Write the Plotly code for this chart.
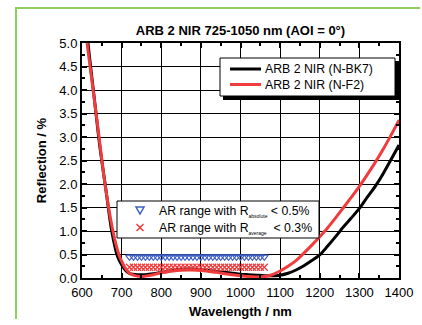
import plotly.graph_objects as go

# Data
wl_bk7 = [612, 615, 630, 645, 660, 675, 690, 700, 710, 720, 740, 760, 780, 800, 820, 840, 860, 880, 900,
          920, 940, 960, 980, 1000, 1020, 1040, 1060, 1080, 1100, 1120, 1140, 1160, 1180, 1200,
          1220, 1240, 1260, 1280, 1300, 1320, 1340, 1360, 1380, 1400]
r_bk7 = [5.3, 5.0, 3.9, 2.8, 1.9, 1.0, 0.45, 0.28, 0.16, 0.1, 0.07, 0.07, 0.09, 0.12, 0.15, 0.18, 0.19, 0.19, 0.18,
         0.16, 0.14, 0.12, 0.1, 0.08, 0.07, 0.06, 0.05, 0.05, 0.06, 0.1, 0.17, 0.26, 0.37, 0.49,
         0.68, 0.88, 1.09, 1.28, 1.48, 1.72, 1.95, 2.22, 2.52, 2.83]

wl_f2 = [610, 613, 628, 643, 658, 678, 693, 700, 710, 720, 730, 740, 750, 760, 780, 800, 820, 840, 860, 880, 900,
         920, 940, 960, 980, 1000, 1020, 1040, 1060, 1080, 1100, 1120, 1140, 1160, 1180, 1200,
         1220, 1240, 1260, 1280, 1300, 1320, 1340, 1360, 1380, 1400]
r_f2 = [5.3, 5.0, 4.0, 3.0, 2.0, 1.0, 0.5, 0.36, 0.2, 0.1, 0.06, 0.04, 0.03, 0.04, 0.07, 0.11, 0.14, 0.16, 0.17, 0.17, 0.16,
        0.14, 0.12, 0.09, 0.07, 0.05, 0.03, 0.02, 0.03, 0.07, 0.15, 0.25, 0.37, 0.53, 0.7, 0.88,
        1.07, 1.28, 1.5, 1.72, 1.95, 2.2, 2.46, 2.74, 3.04, 3.36]

wl_marks = [720, 730, 740, 750, 760, 770, 780, 790, 800, 810, 820, 830, 840, 850, 860, 870, 880, 890,
            900, 910, 920, 930, 940, 950, 960, 970, 980, 990, 1000, 1010, 1020, 1030, 1040, 1050, 1060]
abs_level = [0.45] * len(wl_marks)
avg_level = [0.23] * len(wl_marks)

x_ticks = [600, 700, 800, 900, 1000, 1100, 1200, 1300, 1400]
y_ticks = [0.0, 0.5, 1.0, 1.5, 2.0, 2.5, 3.0, 3.5, 4.0, 4.5, 5.0]

series_names = ["ARB 2 NIR (N-BK7)", "ARB 2 NIR (N-F2)"]
range_names = ["AR range with R<sub><span style='font-size:5px'>absolute</span></sub> &lt; 0.5%",
               "AR range with R<sub><span style='font-size:5px'>average</span></sub>  &lt; 0.3%"]

FONT = "Liberation Sans, Arial, sans-serif"
BLACK = "black"
RED = "#f03c3c"
BLUE = "#3d5fc4"
GREEN = "#8dcf5f"
LEG_SIZE = 12.3

# plot area in pixels
L, R, T, B = 82, 399, 43, 278
W, H = 422, 325


def px(x):
    return (x - L) / (R - L)


def py(y):
    return (B - y) / (B - T)


fig = go.Figure()
fig.add_trace(go.Scatter(x=wl_bk7, y=r_bk7, mode="lines", name=series_names[0],
                         line=dict(color=BLACK, width=3, shape="spline", smoothing=0.8)))
fig.add_trace(go.Scatter(x=wl_f2, y=r_f2, mode="lines", name=series_names[1],
                         line=dict(color=RED, width=3, shape="spline", smoothing=0.8)))
fig.add_trace(go.Scatter(x=wl_marks, y=abs_level, mode="markers", name="abs",
                         marker=dict(symbol="triangle-down-open", color=BLUE, size=7,
                                     line=dict(width=1.2))))
fig.add_trace(go.Scatter(x=wl_marks, y=avg_level, mode="markers", name="avg",
                         marker=dict(symbol="x-thin-open", color=RED, size=7,
                                     line=dict(width=1.3, color=RED))))

axis_common = dict(showline=True, linecolor="black", linewidth=2, mirror="ticks",
                   ticks="inside", ticklen=5, tickwidth=1.5, tickcolor="black",
                   showgrid=True, gridcolor="black", gridwidth=1, zeroline=False,
                   automargin=False,
                   tickfont=dict(family=FONT, size=13, color="black"))

fig.update_xaxes(range=[600, 1400], tickvals=x_ticks, ticktext=[str(v) for v in x_ticks],
                 minor=dict(ticks="inside", ticklen=3, tickcolor="black", dtick=50, showgrid=False),
                 ticklabelstandoff=1,
                 title=dict(text="<b>Wavelength / nm</b>", font=dict(family=FONT, size=13, color="black"),
                            standoff=8),
                 **axis_common)
fig.update_yaxes(range=[0, 5], tickvals=y_ticks, ticktext=[f"{v:.1f}" for v in y_ticks],
                 minor=dict(ticks="inside", ticklen=3, tickcolor="black", dtick=0.25, showgrid=False),
                 title=dict(text="<b>Reflection / %</b>", font=dict(family=FONT, size=13, color="black"),
                            standoff=10),
                 **axis_common)


def pshape(kind, x0, y0, x1, y1, **kw):
    return dict(type=kind, xref="paper", yref="paper", x0=px(x0), x1=px(x1), y0=py(y0), y1=py(y1),
                layer="above", **kw)


shapes = []
# legend 1: shadow, box, line samples
shapes.append(pshape("rect", 223, 100, 399, 61, fillcolor="black", line=dict(width=0)))
shapes.append(pshape("rect", 220, 96, 395, 58, fillcolor="white", line=dict(width=1, color="black")))
shapes.append(pshape("line", 230, 69, 261, 69, line=dict(color=BLACK, width=3)))
shapes.append(pshape("line", 230, 84.5, 261, 84.5, line=dict(color=RED, width=3)))
# legend 2 box and symbols
shapes.append(pshape("rect", 117, 238, 319, 201, fillcolor="white", line=dict(width=1, color="black")))
tri = "M {},{} L {},{} L {},{} Z".format(px(136), py(207), px(144), py(207), px(140), py(214))
shapes.append(dict(type="path", xref="paper", yref="paper", path=tri, layer="above",
                   line=dict(color=BLUE, width=1.5)))
shapes.append(pshape("line", 136.5, 224, 143.5, 231, line=dict(color=RED, width=1.5)))
shapes.append(pshape("line", 136.5, 231, 143.5, 224, line=dict(color=RED, width=1.5)))

annotations = []
for name, yy in zip(series_names, [69, 84.5]):
    annotations.append(dict(text=name, xref="paper", yref="paper", x=px(263), y=py(yy),
                            xanchor="left", yanchor="middle", showarrow=False,
                            font=dict(family=FONT, size=LEG_SIZE, color="black")))
for name, yy in zip(range_names, [210, 227]):
    annotations.append(dict(text=name, xref="paper", yref="paper", x=px(157), y=py(yy + 1.5),
                            xanchor="left", yanchor="middle", showarrow=False,
                            font=dict(family=FONT, size=LEG_SIZE, color="black")))
# green frame: top edge and left edge as thin filled boxes
annotations.append(dict(text=" ", xref="paper", yref="paper", x=px(15), y=py(7),
                        xanchor="left", yanchor="top", showarrow=False,
                        width=405, height=2, borderpad=0, borderwidth=0,
                        bgcolor=GREEN, font=dict(size=1)))
annotations.append(dict(text=" ", xref="paper", yref="paper", x=px(17), y=py(7),
                        xanchor="right", yanchor="top", showarrow=False,
                        width=2, height=312, borderpad=0, borderwidth=0,
                        bgcolor=GREEN, font=dict(size=1)))

fig.update_layout(
    width=W, height=H,
    margin=dict(l=L, r=W - R, t=T, b=H - B),
    paper_bgcolor="white", plot_bgcolor="white",
    title=dict(text="<b>ARB 2 NIR 725-1050 nm (AOI = 0°)</b>", x=0.5, xref="paper",
               y=1 - 30 / H, yref="container", yanchor="middle",
               font=dict(family=FONT, size=13, color="black")),
    font=dict(family=FONT, size=13, color="black"),
    showlegend=False,
    shapes=shapes,
    annotations=annotations,
)

fig.write_html("out.html", config={"displayModeBar": False},
               post_script="document.body.style.margin='0';document.body.style.overflow='hidden';")
